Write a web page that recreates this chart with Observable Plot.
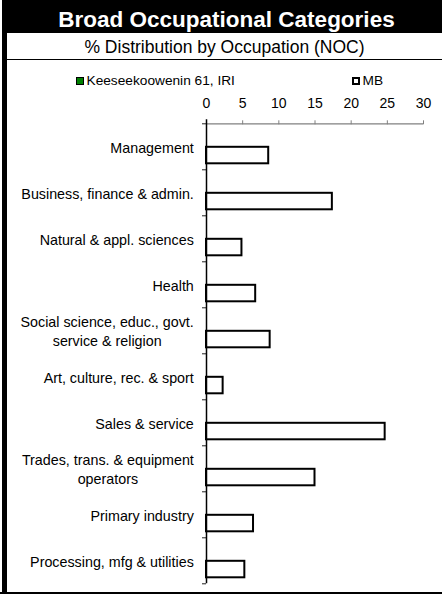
<!DOCTYPE html>
<html><head><meta charset="utf-8">
<script src="https://cdn.jsdelivr.net/npm/d3@7"></script>
<script src="https://cdn.jsdelivr.net/npm/@observablehq/plot@0.6"></script>
<style>
body{margin:0;background:#fff;font-family:"Liberation Sans",Arial,sans-serif;}
#wrap{position:relative;width:442px;height:594px;overflow:hidden;background:#fff;}
#title{position:absolute;left:2px;top:0;width:440px;height:33px;background:#000;color:#fff;font-weight:bold;font-size:22.5px;line-height:33px;text-align:center;box-sizing:border-box;padding-left:9px;white-space:nowrap;}
#title span{position:relative;top:2.5px;}
#subtitle{position:absolute;left:7px;top:33px;width:435px;height:26px;border-bottom:1.5px solid #000;font-size:17.5px;line-height:26px;text-align:center;white-space:nowrap;}
#subtitle span{position:relative;top:1.3px;}
#lborder{position:absolute;left:2px;top:0;width:5px;height:594px;background:#000;}
#bborder{position:absolute;left:0;top:591.5px;width:442px;height:2px;background:#000;}
#chart{position:absolute;left:0;top:60px;width:442px;height:534px;}
#chart svg{display:block;max-width:none !important;width:442px;height:534px;}
.sw{position:absolute;box-sizing:border-box;width:8px;height:8px;top:76.5px;}
.lt{position:absolute;top:74px;font-size:13.7px;line-height:13px;white-space:nowrap;}
</style>
</head><body>
<div id="wrap">
  <div id="title"><span></span></div>
  <div id="subtitle"><span></span></div>
  <div id="chart"></div>
  <div class="sw" id="sw0" style="left:75.5px;border:1.5px solid #000;background:#008000;"></div>
  <div class="lt" id="lt0" style="left:86.5px;"></div>
  <div class="sw" id="sw1" style="left:352px;border:2px solid #000;background:#fff;"></div>
  <div class="lt" id="lt1" style="left:362.5px;"></div>
  <div id="lborder"></div>
  <div id="bborder"></div>
</div>
<script>
const titleText = "Broad Occupational Categories";
const subtitleText = "% Distribution by Occupation (NOC)";
const seriesNames = ["Keeseekoowenin 61, IRI", "MB"];
const categories = [
  "Management",
  "Business, finance & admin.",
  "Natural & appl. sciences",
  "Health",
  "Social science, educ., govt.\nservice & religion",
  "Art, culture, rec. & sport",
  "Sales & service",
  "Trades, trans. & equipment\noperators",
  "Primary industry",
  "Processing, mfg & utilities"
];
const keeValues = [0, 0, 0, 0, 0, 0, 0, 0, 0, 0];
const mbValues = [8.6, 17.4, 4.9, 6.8, 8.8, 2.3, 24.7, 15.0, 6.5, 5.3];
const xTicks = [0, 5, 10, 15, 20, 25, 30];

document.querySelector("#title span").textContent = titleText;
document.querySelector("#subtitle span").textContent = subtitleText;
document.getElementById("lt0").textContent = seriesNames[0];
document.getElementById("lt1").textContent = seriesNames[1];

const W = 442, H = 534, mTop = 63.3, mBottom = 10.7, mLeft = 206, mRight = 19;
const band = (H - mTop - mBottom) / categories.length;
const labelGap = 12.7;
const labelSize = 14.3;

const kData = categories.map((c, i) => ({category: c, value: keeValues[i]}));
const mData = categories.map((c, i) => ({category: c, value: mbValues[i]}));

const ctx = document.createElement("canvas").getContext("2d");
ctx.font = labelSize + "px 'Liberation Sans'";
const labelMarks = categories.map(c => {
  const w = d3.max(c.split("\n"), s => ctx.measureText(s).width);
  return Plot.text([c], {
    x: () => 0, y: d => d, text: d => d,
    textAnchor: "middle", lineAnchor: "middle",
    dx: -(labelGap + w / 2), fontSize: labelSize, lineHeight: 1.31, fill: "black"
  });
});

const plot = Plot.plot({
  width: W, height: H,
  marginTop: mTop, marginBottom: mBottom, marginLeft: mLeft, marginRight: mRight,
  style: {fontFamily: "'Liberation Sans', Arial, sans-serif", fontSize: "14px", color: "black", background: "white"},
  x: {domain: [0, 30], axis: null, label: null},
  y: {domain: categories, padding: 0, axis: null, round: false},
  marks: [
    Plot.barX(kData, {y: "category", x: "value", fill: "#008000", stroke: "black", strokeWidth: 2, insetTop: 6, insetBottom: 23.5}),
    Plot.barX(mData, {y: "category", x: "value", fill: "white", stroke: "black", strokeWidth: 2, insetTop: 23.5, insetBottom: 6}),
    Plot.ruleY([categories[0]], {y: d => d, x1: () => 0, x2: () => 30, dy: -band / 2, stroke: "#808080", strokeWidth: 1.2}),
    Plot.axisX({anchor: "top", ticks: xTicks, tickSize: 4, tickPadding: 12, fontSize: 14, stroke: "#808080", label: null, tickFormat: d => String(d)}),
    Plot.ruleY(categories, {y: d => d, x1: () => 0, x2: () => 0, insetLeft: -4, dy: -band / 2, stroke: "#222"}),
    Plot.ruleY([categories[categories.length - 1]], {y: d => d, x1: () => 0, x2: () => 0, insetLeft: -4, dy: band / 2, stroke: "#222"}),
    Plot.ruleX([0], {stroke: "black", strokeWidth: 1.5, insetTop: -4}),
    ...labelMarks
  ]
});
document.getElementById("chart").appendChild(plot);
</script>
</body></html>
